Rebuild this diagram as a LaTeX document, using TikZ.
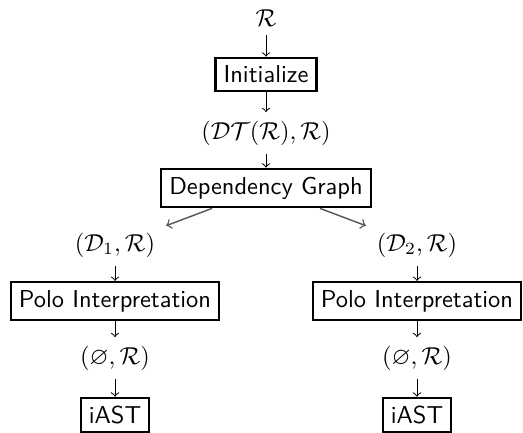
\documentclass[tikz,border=0pt]{standalone}
\usepackage{amssymb}
\begin{document}
\begin{tikzpicture}[x=0.409pt,y=-0.409pt,
  box/.style={draw,line width=0.9pt,font=\sffamily},
  lab/.style={},
  varr/.style={->},
  darr/.style={->,black!65,semithick,shorten >=1pt}]
\useasboundingbox (0,0) rectangle (523,432);
\node[lab] (r) at (266,18) {$\mathcal{R}$};
\node[box] (init) at (266,74.5) {Initialize};
\node[lab] (dt) at (266,133) {$(\mathcal{DT}(\mathcal{R}),\mathcal{R})$};
\node[box] (dg) at (266,188) {Dependency Graph};
\node[lab] (d1) at (115,245) {$(\mathcal{D}_1,\mathcal{R})$};
\node[lab] (d2) at (417,245) {$(\mathcal{D}_2,\mathcal{R})$};
\node[box] (p1) at (115,301) {Polo Interpretation};
\node[box] (p2) at (417,301) {Polo Interpretation};
\node[lab] (e1) at (115,358) {$(\varnothing,\mathcal{R})$};
\node[lab] (e2) at (417,358) {$(\varnothing,\mathcal{R})$};
\node[box] (a1) at (115,415) {iAST};
\node[box] (a2) at (417,415) {iAST};
\draw[varr] (r) -- (init);
\draw[varr] (init) -- (dt);
\draw[varr] (dt) -- (dg);
\draw[darr] (dg) -- (d1);
\draw[darr] (dg) -- (d2);
\draw[varr] (d1) -- (p1);
\draw[varr] (d2) -- (p2);
\draw[varr] (p1) -- (e1);
\draw[varr] (p2) -- (e2);
\draw[varr] (e1) -- (a1);
\draw[varr] (e2) -- (a2);
\end{tikzpicture}
\end{document}
